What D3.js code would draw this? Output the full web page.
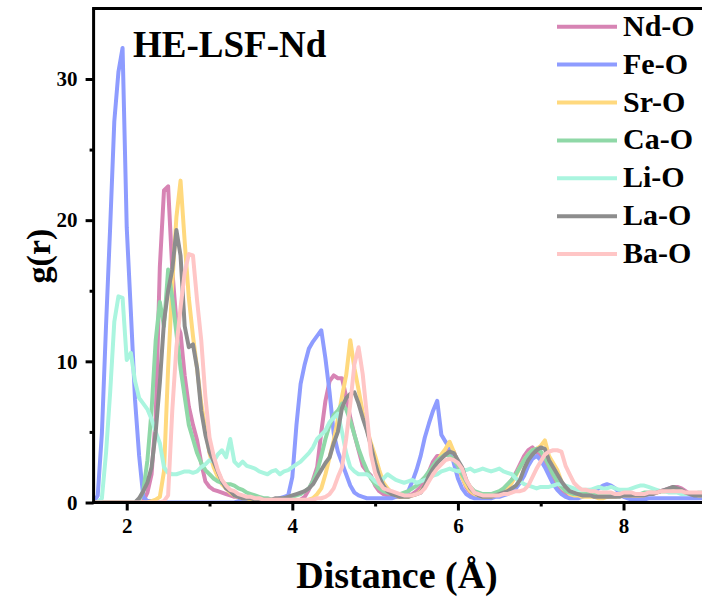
<!DOCTYPE html>
<html>
<head>
<meta charset="utf-8">
<script src="https://cdn.jsdelivr.net/npm/d3@7"></script>
<style>
  body { margin: 0; background: #fff; }
  svg  { display: block; }
</style>
</head>
<body>
<svg id="chart" width="702" height="603"></svg>
<script>
// g(r) radial distribution functions, HE-LSF-Nd.
// Values on a 0.05 Å grid (1.60 .. 9.05 Å).

const distance = d3.range(150).map(i => +(1.6 + 0.05 * i).toFixed(2));

const pairNames  = ["Nd-O", "Fe-O", "Sr-O", "Ca-O", "Li-O", "La-O", "Ba-O"];
const pairColors = ["#d784b4", "#8e9cff", "#ffd97e", "#8fd8a7", "#aaf5df", "#8d8d8d", "#ffc6c6"];

const ndO = [
  0, 0, 0, 0, 0, 0, 0, 0, 0, 0,
  0, 0, 0.1, 0.7, 2.0, 6.0, 16.7, 22.1, 22.4, 16.5,
  12.8, 12.0, 9.0, 6.8, 5.5, 4.4, 2.8, 1.5, 1.1, 0.9,
  0.8, 0.7, 0.6, 0.5, 0.4, 0.4, 0.3, 0.3, 0.2, 0.2,
  0.2, 0.1, 0.1, 0.1, 0.1, 0.1, 0.1, 0.1, 0.1, 0.1,
  0.2, 0.4, 0.9, 1.6, 2.5, 5.0, 7.2, 8.6, 9.0, 8.8,
  8.8, 7.5, 6.0, 4.8, 3.7, 2.6, 2.2, 1.9, 1.2, 0.8,
  0.6, 0.5, 0.5, 0.4, 0.4, 0.5, 0.5, 0.6, 0.8, 1.1,
  1.5, 2.2, 2.9, 3.3, 3.3, 3.6, 3.8, 3.6, 2.8, 1.8,
  1.1, 0.7, 0.5, 0.4, 0.4, 0.4, 0.5, 0.6, 0.7, 0.9,
  1.2, 1.6, 2.1, 2.7, 3.3, 3.7, 3.9, 3.6, 3.2, 2.7,
  2.1, 1.5, 1.0, 0.7, 0.6, 0.5, 0.5, 0.5, 0.5, 0.5,
  0.5, 0.4, 0.4, 0.4, 0.4, 0.5, 0.5, 0.5, 0.5, 0.5,
  0.5, 0.5, 0.5, 0.5, 0.6, 0.6, 0.7, 0.8, 0.9, 1.0,
  1.1, 1.1, 1.0, 0.8, 0.6, 0.5, 0.5, 0.5, 0.5, 0.5
];

const feO = [
  0.0, 0.5, 4.9, 12.5, 19.5, 27.0, 30.5, 32.2, 19.5, 13.5,
  7.3, 3.3, 0.4, 0.1, 0.1, 0.0, 0.0, 0.0, 0.0, 0.0,
  0.0, 0.0, 0.0, 0.0, 0.0, 0.0, 0.0, 0.0, 0.0, 0.0,
  0.0, 0.0, 0.0, 0.0, 0.0, 0.1, 0.1, 0.1, 0.1, 0.1,
  0.1, 0.1, 0.1, 0.1, 0.2, 0.3, 0.4, 0.5, 1.8, 5.5,
  8.4, 9.8, 10.9, 11.4, 11.8, 12.2, 10.2, 7.8, 4.9, 3.6,
  2.8, 2.0, 1.2, 0.7, 0.5, 0.4, 0.3, 0.3, 0.3, 0.3,
  0.3, 0.3, 0.3, 0.4, 0.5, 0.6, 0.8, 1.5, 2.3, 3.3,
  4.6, 5.6, 6.5, 7.2, 4.8, 4.3, 3.9, 2.8, 1.7, 1.0,
  0.6, 0.4, 0.3, 0.3, 0.3, 0.3, 0.3, 0.4, 0.4, 0.5,
  0.6, 0.8, 1.0, 1.4, 1.9, 2.6, 3.1, 3.3, 3.0, 2.5,
  1.9, 1.3, 0.9, 0.6, 0.4, 0.3, 0.3, 0.3, 0.4, 0.5,
  0.6, 0.8, 1.0, 1.2, 1.3, 1.2, 1.0, 0.7, 0.4, 0.3,
  0.2, 0.2, 0.2, 0.2, 0.3, 0.3, 0.3, 0.3, 0.3, 0.3,
  0.3, 0.3, 0.3, 0.3, 0.3, 0.3, 0.3, 0.3, 0.3, 0.3
];

const srO = [
  0, 0, 0, 0, 0, 0, 0, 0, 0, 0,
  0, 0, 0, 0, 0.1, 0.2, 0.4, 2.2, 9.5, 15.5,
  20.2, 22.8, 18.5, 14.5, 11.8, 9.5, 7.0, 5.2, 3.5, 2.5,
  1.8, 1.3, 1.0, 0.7, 0.5, 0.4, 0.3, 0.3, 0.2, 0.2,
  0.2, 0.1, 0.1, 0.1, 0.1, 0.1, 0.1, 0.1, 0.1, 0.1,
  0.1, 0.1, 0.2, 0.3, 0.6, 1.0, 2.0, 3.2, 4.4, 5.9,
  7.5, 9.0, 11.5, 9.5, 8.0, 6.4, 5.2, 4.2, 3.3, 2.3,
  1.4, 1.0, 0.7, 0.5, 0.4, 0.4, 0.4, 0.5, 0.6, 0.8,
  1.2, 1.7, 2.3, 2.9, 3.4, 3.8, 4.3, 3.6, 2.7, 1.8,
  1.2, 0.8, 0.6, 0.5, 0.4, 0.4, 0.4, 0.5, 0.6, 0.8,
  1.0, 1.4, 1.9, 2.5, 3.0, 3.4, 3.7, 3.8, 4.0, 4.4,
  3.3, 2.8, 2.3, 1.5, 0.9, 0.6, 0.5, 0.5, 0.4, 0.4,
  0.4, 0.4, 0.3, 0.3, 0.4, 0.4, 0.4, 0.5, 0.5, 0.5,
  0.5, 0.5, 0.5, 0.6, 0.6, 0.7, 0.7, 0.8, 0.8, 0.9,
  0.9, 0.9, 0.8, 0.7, 0.6, 0.6, 0.5, 0.5, 0.5, 0.5
];

const caO = [
  0, 0, 0, 0, 0, 0, 0, 0, 0, 0,
  0, 0.2, 0.8, 3.0, 6.5, 11.5, 14.2, 12.5, 16.5, 14.5,
  12.0, 9.5, 7.5, 5.5, 4.5, 3.5, 2.8, 2.3, 2.0, 1.7,
  1.5, 1.4, 1.3, 1.3, 1.2, 1.0, 0.9, 0.7, 0.6, 0.5,
  0.4, 0.3, 0.3, 0.2, 0.2, 0.2, 0.3, 0.3, 0.4, 0.5,
  0.6, 0.8, 1.0, 1.5, 2.2, 3.3, 4.5, 5.5, 6.2, 6.5,
  7.0, 6.6, 5.8, 4.8, 3.8, 3.0, 2.3, 1.7, 1.3, 1.0,
  0.8, 0.7, 0.6, 0.6, 0.6, 0.7, 0.8, 1.0, 1.2, 1.5,
  1.8, 2.2, 2.6, 3.0, 3.2, 3.4, 3.3, 3.0, 2.6, 2.0,
  1.5, 1.1, 0.8, 0.7, 0.6, 0.6, 0.6, 0.7, 0.8, 1.0,
  1.3, 1.6, 2.0, 2.5, 3.0, 3.4, 3.7, 3.8, 3.6, 3.2,
  2.6, 2.0, 1.5, 1.1, 0.8, 0.7, 0.6, 0.6, 0.6, 0.6,
  0.6, 0.6, 0.6, 0.5, 0.5, 0.5, 0.5, 0.6, 0.6, 0.6,
  0.6, 0.6, 0.6, 0.7, 0.7, 0.7, 0.8, 0.8, 0.8, 0.8,
  0.8, 0.8, 0.7, 0.7, 0.6, 0.6, 0.6, 0.6, 0.6, 0.6
];

const liO = [
  0, 0, 0.3, 3.5, 7.8, 12.8, 14.6, 14.5, 10.1, 10.6,
  8.6, 7.4, 7.0, 6.6, 5.9, 5.0, 4.2, 2.5, 2.1, 2.0,
  2.0, 2.1, 2.2, 2.2, 2.1, 2.2, 2.5, 2.7, 3.0, 2.9,
  3.4, 3.7, 3.2, 4.5, 2.9, 2.6, 2.9, 2.6, 2.5, 2.4,
  2.2, 2.1, 2.0, 2.2, 2.3, 2.0, 2.2, 2.3, 2.5, 2.7,
  2.9, 3.2, 3.5, 3.9, 4.5, 4.8, 5.1, 5.7, 6.0, 6.3,
  5.0, 3.5, 2.5, 2.2, 2.0, 2.0, 2.0, 1.8, 1.5, 1.3,
  1.7, 2.0, 1.8, 1.6, 1.5, 1.4, 1.5, 1.6, 1.4, 1.5,
  1.6, 1.7, 1.9, 2.0, 2.2, 2.3, 2.4, 2.3, 2.2, 2.3,
  2.3, 2.4, 2.2, 2.3, 2.4, 2.3, 2.2, 2.3, 2.4, 2.2,
  2.1, 2.0, 1.7, 1.5, 1.3, 1.2, 1.1, 1.0, 1.1, 1.1,
  1.1, 1.2, 1.3, 1.3, 1.2, 1.1, 1.0, 0.9, 0.9, 0.9,
  0.9, 1.0, 1.1, 1.0, 1.0, 1.1, 1.0, 0.9, 0.9, 0.9,
  1.0, 1.1, 1.2, 1.2, 1.1, 1.0, 0.9, 0.8, 0.8, 0.7,
  0.7, 0.7, 0.6, 0.6, 0.6, 0.6, 0.7, 0.7, 0.6, 0.6
];

const laO = [
  0, 0, 0, 0, 0, 0, 0, 0, 0, 0,
  0, 0.3, 0.8, 1.4, 2.5, 5.0, 8.5, 12.8, 15.0, 16.5,
  19.3, 17.5, 12.5, 11.0, 11.2, 9.5, 6.5, 4.8, 3.6, 2.9,
  2.2, 1.5, 1.0, 0.8, 0.5, 0.4, 0.3, 0.3, 0.3, 0.2,
  0.2, 0.2, 0.2, 0.2, 0.3, 0.3, 0.3, 0.4, 0.5, 0.6,
  0.7, 0.8, 1.0, 1.3, 1.8, 2.3, 2.8, 3.2, 4.2, 5.0,
  6.7, 7.4, 7.7, 7.8, 7.0, 6.0, 5.1, 4.0, 2.8, 1.8,
  1.2, 0.8, 0.6, 0.5, 0.4, 0.4, 0.4, 0.5, 0.6, 0.7,
  1.2, 1.9, 2.4, 2.8, 3.1, 3.4, 3.6, 3.5, 3.0, 2.5,
  1.6, 1.0, 0.7, 0.5, 0.4, 0.4, 0.4, 0.5, 0.6, 0.7,
  0.8, 1.0, 1.2, 1.6, 2.4, 3.0, 3.4, 3.7, 3.9, 3.8,
  3.0, 2.5, 2.0, 1.5, 1.1, 0.8, 0.7, 0.6, 0.5, 0.5,
  0.5, 0.4, 0.4, 0.4, 0.4, 0.4, 0.4, 0.4, 0.5, 0.5,
  0.5, 0.5, 0.5, 0.5, 0.6, 0.6, 0.7, 0.8, 0.9, 1.0,
  1.1, 1.0, 0.9, 0.7, 0.6, 0.5, 0.5, 0.5, 0.4, 0.4
];

const baO = [
  0, 0, 0, 0, 0, 0, 0, 0, 0, 0,
  0, 0, 0, 0, 0, 0, 0, 0.1, 0.5, 6.5,
  11.0, 13.8, 16.3, 17.6, 17.5, 14.3, 11.5, 7.5, 4.6, 3.3,
  2.3, 1.6, 1.2, 0.9, 0.8, 0.6, 0.5, 0.4, 0.4, 0.3,
  0.3, 0.2, 0.2, 0.2, 0.2, 0.2, 0.2, 0.2, 0.2, 0.2,
  0.2, 0.2, 0.2, 0.2, 0.3, 0.3, 0.4, 0.6, 1.0, 1.8,
  2.5, 4.5, 7.0, 9.8, 11.0, 9.1, 6.2, 3.4, 2.1, 1.4,
  1.0, 0.9, 0.8, 0.7, 0.6, 0.5, 0.5, 0.5, 0.6, 0.7,
  1.0, 1.5, 2.0, 2.4, 2.7, 3.0, 3.1, 3.0, 2.8, 2.4,
  1.6, 1.1, 0.7, 0.6, 0.5, 0.5, 0.5, 0.5, 0.5, 0.6,
  0.6, 0.7, 0.8, 0.8, 0.9, 1.2, 1.8, 2.4, 2.9, 3.4,
  3.6, 3.7, 3.7, 3.6, 2.6, 2.0, 1.4, 1.1, 0.9, 0.9,
  0.8, 0.8, 0.7, 0.7, 0.7, 0.7, 0.6, 0.6, 0.7, 0.7,
  0.7, 0.6, 0.6, 0.6, 0.7, 0.7, 0.7, 0.8, 0.8, 0.8,
  0.8, 0.8, 0.8, 0.7, 0.7, 0.7, 0.7, 0.7, 0.7, 0.7
];

const pairValues = [ndO, feO, srO, caO, liO, laO, baO];

const xMajor = [2, 4, 6, 8];
const xMinor = [3, 5, 7];
const yMajor = [0, 10, 20, 30];
const yMinor = [5, 15, 25];

const FONT = "'Liberation Serif', 'Times New Roman', serif";

const svg = d3.select("#chart");

// Plot frame. The right side of the original figure is cropped off.
const plotLeft = 93.6, plotTop = 8.4, plotBottom = 502.5;
const x = d3.scaleLinear().domain([1.6, 9.0]).range([plotLeft, plotLeft + 7.4 * 82.8]);
const y = d3.scaleLinear().domain([0, 35]).range([plotBottom, plotTop]);

svg.append("defs").append("clipPath").attr("id", "plot-clip")
  .append("rect")
  .attr("x", plotLeft).attr("y", plotTop)
  .attr("width", 702 - plotLeft).attr("height", plotBottom - plotTop);

const line = d3.line()
  .x((d, i) => x(distance[i]))
  .y(d => y(d));

const plot = svg.append("g").attr("clip-path", "url(#plot-clip)");

pairValues.forEach((vals, k) => {
  plot.append("path")
    .datum(vals)
    .attr("fill", "none")
    .attr("stroke", pairColors[k])
    .attr("stroke-width", 4)
    .attr("stroke-linejoin", "round")
    .attr("d", line);
});

// Axes: thick black lines, major ticks outward, short minor ticks.
function styleAxis(g) {
  g.select(".domain").attr("stroke", "#000").attr("stroke-width", 3);
  g.selectAll(".tick line").attr("stroke", "#000").attr("stroke-width", 3);
  g.selectAll(".tick text")
    .attr("font-family", FONT)
    .attr("font-weight", "bold")
    .attr("font-size", "21px")
    .attr("fill", "#000");
}

svg.append("g")
  .attr("transform", `translate(0,${plotBottom})`)
  .call(d3.axisBottom(x).tickValues(xMinor).tickSize(4).tickSizeOuter(0).tickFormat(""))
  .call(styleAxis)
  .call(g => g.select(".domain").remove());

svg.append("g")
  .attr("transform", `translate(${plotLeft},0)`)
  .call(d3.axisLeft(y).tickValues(yMinor).tickSize(4).tickSizeOuter(0).tickFormat(""))
  .call(styleAxis)
  .call(g => g.select(".domain").remove());

svg.append("g")
  .attr("transform", `translate(0,${plotBottom})`)
  .call(d3.axisBottom(x).tickValues(xMajor).tickSize(8).tickSizeOuter(0).tickPadding(8).tickFormat(d3.format("d")))
  .call(styleAxis)
  .call(g => g.select(".domain").attr("d", `M${plotLeft - 1.5},0H702`));

svg.append("g")
  .attr("transform", `translate(${plotLeft},0)`)
  .call(d3.axisLeft(y).tickValues(yMajor).tickSize(8).tickSizeOuter(0).tickPadding(8).tickFormat(d3.format("d")))
  .call(styleAxis)
  .call(g => g.select(".domain").attr("d", `M0,${plotBottom + 1.5}V${plotTop}`));

// Top frame line.
svg.append("line")
  .attr("x1", plotLeft - 1.5).attr("x2", 702)
  .attr("y1", plotTop).attr("y2", plotTop)
  .attr("stroke", "#000").attr("stroke-width", 3);

// Axis titles and panel label.
svg.append("text")
  .attr("x", 397).attr("y", 588)
  .attr("text-anchor", "middle")
  .attr("font-family", FONT).attr("font-weight", "bold").attr("font-size", "38px")
  .text("Distance (Å)");

svg.append("text")
  .attr("transform", "translate(50,256) rotate(-90)")
  .attr("text-anchor", "middle")
  .attr("font-family", FONT).attr("font-weight", "bold").attr("font-size", "34px")
  .text("g(r)");

svg.append("text")
  .attr("x", 133).attr("y", 57)
  .attr("font-family", FONT).attr("font-weight", "bold").attr("font-size", "37px")
  .text("HE-LSF-Nd");

// Legend, top right.
const legend = svg.append("g");
pairNames.forEach((name, k) => {
  const ly = 26.7 + k * 37.9;
  legend.append("line")
    .attr("x1", 557).attr("x2", 617)
    .attr("y1", ly).attr("y2", ly)
    .attr("stroke", pairColors[k]).attr("stroke-width", 4);
  legend.append("text")
    .attr("x", 623).attr("y", ly + 9)
    .attr("font-family", FONT).attr("font-weight", "bold").attr("font-size", "30px")
    .text(name);
});
</script>
</body>
</html>
